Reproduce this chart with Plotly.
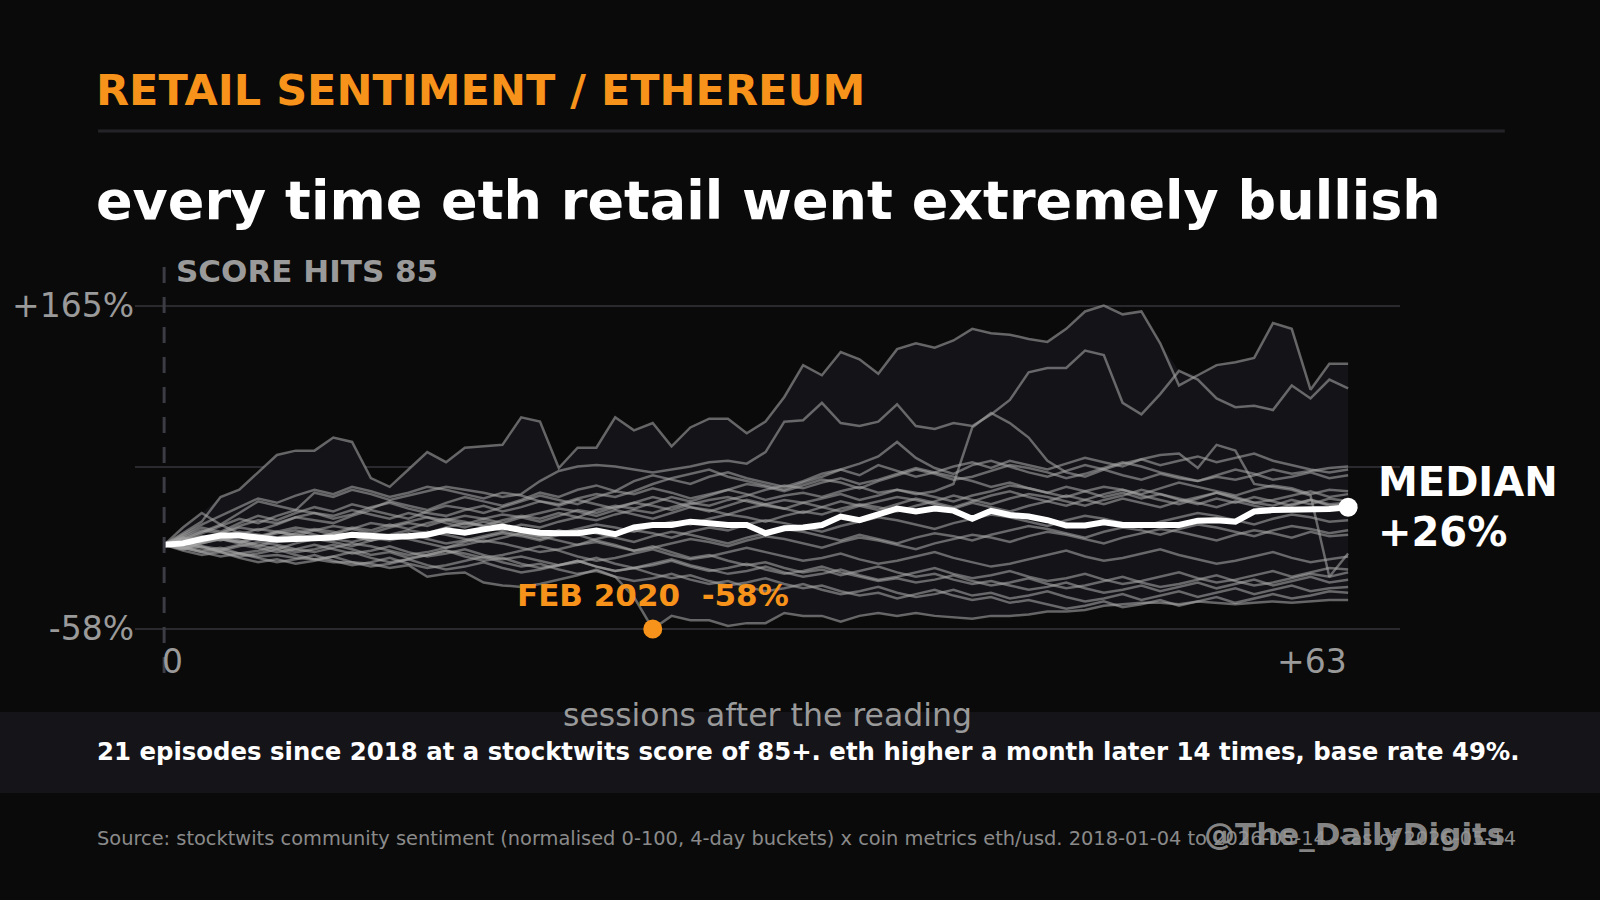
import plotly.graph_objects as go

# canvas + plot box (pixels)
W, H = 1600, 900
ML, MR, MT, MB = 133, 200, 260, 227

BG = "#0a0a0a"
ORANGE = "#f7931a"
GREY = "#9a9a9a"

# sessions after the reading
sessions = list(range(64))

# cumulative eth return (%) per episode
ep_top = [0, 8, 16, 33, 38, 50, 62, 65, 65, 74, 71, 46, 40, 52, 64, 57,
          67, 68, 69, 88, 85, 53, 67, 67, 88, 79, 84, 68, 81, 87, 87, 77,
          85, 102, 124, 117, 133, 128, 118, 135, 139, 136, 141, 149, 146, 145, 142, 140,
          149, 161, 165, 159, 161, 139, 110, 117, 124, 126, 129, 153, 149, 107, 125, 125]
ep_second = [0, 4, 9, 14, 22, 30, 27, 24, 36, 33, 38, 35, 31, 34, 37, 40,
             38, 36, 33, 35, 44, 51, 54, 55, 54, 52, 50, 52, 54, 57, 58, 56,
             64, 85, 86, 98, 84, 82, 85, 97, 82, 80, 84, 82, 90, 100, 119, 122,
             122, 134, 131, 98, 90, 104, 120, 114, 101, 95, 96, 93, 110, 101, 114, 108]
ep_spike = [0, -2, 1, 4, 2, 6, 9, 7, 5, 8, 12, 10, 14, 11, 15, 18,
            16, 13, 17, 20, 18, 22, 19, 24, 27, 25, 29, 33, 30, 34, 38, 35,
            31, 34, 36, 33, 37, 40, 36, 38, 35, 37, 42, 81, 91, 84, 74, 58,
            50, 47, 52, 48, 45, 49, 46, 44, 47, 45, 48, 52, 49, 51, 53, 54]
ep_feb2020 = [0, -2, -5, -4, -6, -8, -7, -9, -10, -12, -12, -13, -16, -14, -22, -20,
              -19, -26, -28, -29, -27, -24, -21, -17, -22, -36, -58, -49, -52, -52, -56, -54,
              -54, -47, -49, -49, -53, -49, -47, -49, -47, -49, -50, -51, -49, -49, -48, -46,
              -46, -45, -42, -41, -40, -40, -41, -39, -40, -41, -40, -39, -40, -39, -38, -38]
ep_drop = [0, 6, 12, 9, 15, 20, 17, 22, 26, 23, 28, 25, 30, 27, 24, 29,
           33, 30, 27, 31, 36, 33, 38, 41, 37, 44, 48, 45, 42, 47, 50, 46,
           43, 40, 44, 49, 52, 48, 55, 51, 47, 50, 54, 57, 53, 58, 55, 52,
           56, 60, 57, 54, 59, 62, 63, 53, 69, 65, 42, 40, 38, 34, -22, -6]
ep_peak = [0, 3, 8, 13, 18, 15, 20, 24, 22, 18, 21, 26, 29, 25, 22, 20,
           24, 27, 23, 26, 30, 28, 32, 35, 33, 37, 42, 46, 49, 52, 47, 44,
           41, 38, 43, 47, 52, 56, 61, 71, 60, 53, 49, 55, 58, 54, 50, 47,
           51, 55, 52, 56, 59, 55, 58, 61, 57, 60, 63, 58, 55, 52, 50, 52]
ep_a = [0, 5, 3, 8, 12, 10, 14, 19, 17, 15, 20, 24, 21, 18, 23, 27,
        25, 22, 26, 30, 34, 31, 28, 33, 37, 35, 39, 36, 32, 35, 38, 42,
        40, 37, 41, 45, 43, 39, 44, 48, 52, 49, 45, 47, 51, 55, 53, 50,
        46, 49, 53, 57, 54, 50, 47, 44, 48, 52, 49, 45, 47, 50, 46, 48]
ep_b = [0, 12, 22, 14, 8, 5, 9, 12, 10, 7, 11, 15, 13, 16, 19, 17,
        14, 18, 21, 19, 16, 20, 24, 22, 26, 29, 27, 24, 28, 31, 33, 30,
        27, 25, 29, 32, 35, 31, 34, 38, 36, 33, 30, 34, 37, 41, 39, 36,
        33, 37, 40, 38, 35, 39, 43, 40, 37, 34, 38, 41, 39, 35, 38, 37]
ep_c = [0, 7, 14, 20, 26, 32, 29, 34, 38, 35, 40, 37, 33, 36, 40, 38,
        35, 32, 36, 34, 30, 27, 31, 28, 25, 29, 33, 30, 26, 23, 27, 31,
        28, 25, 22, 26, 30, 27, 24, 28, 32, 29, 26, 30, 34, 37, 33, 30,
        27, 31, 35, 38, 34, 31, 28, 32, 36, 33, 29, 31, 34, 37, 33, 35]
ep_d = [0, 2, 5, 3, 7, 11, 9, 6, 10, 13, 11, 8, 12, 15, 13, 17,
        20, 18, 15, 19, 22, 25, 23, 20, 24, 21, 18, 22, 26, 24, 21, 25,
        28, 31, 29, 26, 23, 27, 30, 33, 31, 28, 25, 29, 26, 23, 27, 30,
        34, 31, 28, 32, 29, 26, 30, 33, 36, 32, 29, 27, 31, 28, 32, 30]
ep_e = [0, -3, 1, 4, 2, -1, 3, 6, 4, 8, 6, 3, 7, 10, 8, 12,
        15, 13, 10, 14, 12, 16, 19, 17, 21, 24, 22, 26, 29, 27, 31, 34,
        38, 41, 39, 43, 46, 42, 45, 49, 53, 50, 47, 44, 40, 43, 39, 36,
        40, 37, 33, 36, 32, 35, 31, 28, 32, 29, 33, 30, 27, 31, 28, 29]
ep_f = [0, 4, 2, 6, 9, 7, 5, 8, 11, 9, 6, 3, 5, 8, 4, 1,
        3, 6, 9, 7, 4, 8, 11, 14, 12, 9, 13, 16, 14, 18, 21, 19,
        16, 20, 23, 21, 25, 28, 26, 23, 27, 30, 34, 31, 28, 32, 35, 33,
        30, 27, 31, 34, 38, 35, 32, 29, 26, 30, 27, 24, 28, 31, 27, 28]
ep_g = [0, 3, 6, 4, 1, 5, 8, 10, 7, 4, 2, 5, 3, 6, 9, 7,
        4, 2, 5, 8, 6, 3, 0, 4, 7, 10, 8, 5, 9, 12, 10, 14,
        17, 15, 12, 9, 13, 16, 19, 17, 14, 11, 15, 18, 21, 19, 16, 13,
        17, 20, 18, 15, 12, 16, 19, 22, 20, 17, 14, 18, 21, 19, 16, 17]
ep_h = [0, -2, 2, 5, 3, 0, -3, 1, 4, 2, -1, 3, 6, 4, 1, -2,
        2, 5, 8, 6, 3, 7, 10, 8, 5, 2, 6, 9, 7, 4, 1, 5,
        8, 11, 9, 6, 3, 7, 4, 1, 5, 8, 6, 3, 7, 10, 13, 11,
        8, 5, 9, 12, 10, 7, 11, 14, 12, 9, 6, 10, 13, 11, 8, 10]
ep_i = [0, 1, -2, -4, -1, 2, 0, -3, -5, -2, 1, -1, -4, -7, -5, -2,
        0, 3, 1, -2, -5, -3, 0, 2, -1, -4, -2, 1, 4, 2, -1, 3,
        6, 4, 1, -2, 2, 5, 3, 0, -3, 1, 4, 7, 5, 2, 6, 9,
        7, 4, 1, 5, 8, 11, 9, 6, 3, 7, 10, 8, 5, 9, 6, 7]
ep_j = [0, -3, -1, -5, -8, -6, -3, -7, -10, -8, -5, -9, -12, -10, -7, -4,
        -6, -9, -7, -4, -1, -4, -8, -11, -9, -6, -3, -7, -10, -8, -5, -2,
        -5, -8, -11, -9, -6, -10, -13, -11, -8, -5, -9, -12, -15, -13, -10, -7,
        -4, -8, -11, -9, -6, -3, -7, -10, -13, -11, -8, -5, -9, -12, -10, -8]
ep_k = [0, -4, -7, -5, -9, -12, -10, -13, -11, -8, -12, -15, -13, -10, -14, -17,
        -15, -12, -16, -19, -17, -14, -11, -15, -18, -16, -13, -10, -14, -17, -20, -18,
        -15, -19, -22, -20, -17, -21, -24, -22, -19, -16, -20, -23, -21, -18, -22, -25,
        -23, -20, -24, -27, -25, -22, -19, -23, -26, -24, -21, -18, -22, -19, -16, -17]
ep_l = [0, 2, -1, -3, 0, -2, -5, -3, 0, -3, -6, -4, -1, -5, -8, -6,
        -3, -7, -10, -8, -11, -14, -12, -9, -13, -16, -14, -11, -15, -18, -16, -13,
        -17, -20, -18, -15, -19, -22, -25, -23, -26, -24, -21, -25, -28, -26, -23, -27,
        -30, -28, -25, -22, -26, -29, -27, -24, -21, -25, -28, -26, -23, -20, -22, -19]
ep_m = [0, 5, 10, 8, 13, 17, 15, 19, 22, 20, 24, 21, 18, 22, 19, 15,
        12, 16, 13, 9, 6, 10, 7, 3, 0, -4, -1, -5, -9, -7, -11, -14,
        -12, -16, -19, -17, -21, -18, -15, -19, -22, -20, -24, -27, -25, -28, -31, -29,
        -26, -30, -33, -31, -28, -32, -29, -26, -30, -27, -24, -28, -25, -22, -26, -24]
ep_n = [0, -2, -5, -8, -6, -9, -12, -10, -7, -11, -14, -12, -9, -13, -16, -14,
        -11, -8, -12, -15, -13, -17, -20, -18, -22, -25, -23, -20, -24, -27, -25, -29,
        -32, -30, -27, -31, -34, -32, -29, -33, -36, -34, -31, -35, -33, -37, -35, -32,
        -36, -39, -37, -34, -38, -35, -32, -36, -33, -30, -34, -31, -28, -32, -30, -29]
ep_o = [0, -1, -4, -2, -6, -4, -1, -5, -3, 0, -3, -7, -5, -9, -7, -4,
        -8, -11, -9, -13, -16, -14, -11, -15, -18, -16, -20, -23, -21, -25, -28, -26,
        -23, -27, -30, -28, -32, -35, -33, -37, -34, -31, -35, -38, -36, -40, -38, -41,
        -44, -42, -39, -43, -41, -38, -42, -39, -36, -40, -37, -34, -37, -35, -32, -33]

episodes = [ep_top, ep_second, ep_spike, ep_feb2020, ep_drop, ep_peak, ep_a, ep_b,
            ep_c, ep_d, ep_e, ep_f, ep_g, ep_h, ep_i, ep_j, ep_k, ep_l, ep_m, ep_n, ep_o]

median = [0, 1, 4, 6.5, 6.5, 5, 3.5, 4, 4.5, 5, 7, 6, 5.5, 6, 7, 10,
          8.4, 10.7, 12.6, 10.3, 8.4, 8, 8, 9.8, 7.3, 12.1, 13.7, 13.7, 16, 14.9, 13.7, 13.7,
          8, 11.4, 12, 13.7, 19.5, 17, 20.6, 25, 23, 25, 23.6, 18, 23.5, 20.6, 19.5, 17,
          13.3, 13.3, 15.5, 13.7, 13.7, 13.7, 13.7, 16.7, 17, 16, 23, 24, 24, 24, 24.8, 26]

y_ticks = [-58, 53.5, 165]
y_ticktext = ["-58%", "", "+165%"]

upper = [max(col) for col in zip(*episodes)]
lower = [min(col) for col in zip(*episodes)]
feb_low = min(ep_feb2020)
feb_low_at = ep_feb2020.index(feb_low)

pw, ph = W - ML - MR, H - MT - MB


def paper(x, y):
    return (x - ML) / pw, (H - MB - y) / ph


fig = go.Figure()

# envelope of all episodes
fig.add_trace(go.Scatter(x=sessions, y=upper, mode="lines", line=dict(width=0),
                         hoverinfo="skip", showlegend=False))
fig.add_trace(go.Scatter(x=sessions, y=lower, mode="lines", line=dict(width=0),
                         fill="tonexty", fillcolor="#131318", hoverinfo="skip", showlegend=False))

for ep in episodes:
    fig.add_trace(go.Scatter(x=sessions, y=ep, mode="lines",
                             line=dict(color="rgba(165,165,165,0.58)", width=2.5),
                             hoverinfo="skip", showlegend=False))

fig.add_trace(go.Scatter(x=sessions, y=median, mode="lines",
                         line=dict(color="white", width=6), showlegend=False))
fig.add_trace(go.Scatter(x=[sessions[-1]], y=[median[-1]], mode="markers",
                         marker=dict(color="white", size=19), showlegend=False))
fig.add_trace(go.Scatter(x=[sessions[feb_low_at]], y=[feb_low], mode="markers",
                         marker=dict(color=ORANGE, size=19), showlegend=False))

fig.add_shape(type="line", xref="x", yref="paper", x0=0, x1=0, y0=0, y1=1,
              line=dict(color="#3c3c44", width=3, dash="16px,14px"))

ann = []


def txt(x, y, text, size, color, anchor="left", bold=False):
    px_, py_ = paper(x, y)
    ann.append(dict(xref="paper", yref="paper", x=px_, y=py_, xanchor=anchor, yanchor="middle",
                    text=f"<b>{text}</b>" if bold else text, showarrow=False,
                    font=dict(size=size, color=color, family="DejaVu Sans")))


txt(92, 90, "RETAIL SENTIMENT / ETHEREUM", 43, ORANGE, bold=True)
txt(92, 200, "every time eth retail went extremely bullish", 54, "white", bold=True)
txt(172, 271, "SCORE HITS 85", 31, GREY, bold=True)
txt(158, 661, "0", 33, GREY)
txt(1349, 661, "+63", 33, GREY, anchor="right")
txt(767, 715, "sessions after the reading", 31.5, GREY, anchor="center")
txt(1376, 482, "MEDIAN", 40, "white", bold=True)
txt(1376, 532, f"+{median[-1]:g}%", 40, "white", bold=True)
txt(93, 751, "21 episodes since 2018 at a stocktwits score of 85+. eth higher a month later 14 times, base rate 49%.",
    24.4, "white", bold=True)
txt(93, 838, "Source: stocktwits community sentiment (normalised 0-100, 4-day buckets) x coin metrics eth/usd. "
    "2018-01-04 to 2026-05-14. \u00b7 as of 2026-05-14", 19.4, "#8a8a8a")
txt(1354, 834, "@The_DailyDigits", 31, "rgba(150,150,150,0.9)", anchor="center", bold=True)

ann.append(dict(x=sessions[feb_low_at], y=feb_low, xref="x", yref="y", yshift=34,
                text=f"<b>FEB 2020\u00a0\u00a0{feb_low}%</b>", showarrow=False, xanchor="center",
                yanchor="middle", font=dict(size=31, color=ORANGE, family="DejaVu Sans")))

# separator under the title, footer band
x0, y0 = paper(96, 131)
x1, _ = paper(1505, 131)
fig.add_shape(type="line", xref="paper", yref="paper", x0=x0, x1=x1, y0=y0, y1=y0,
              line=dict(color="#242428", width=3), layer="below")
_, by0 = paper(0, 712)
_, by1 = paper(0, 793)
bx0, _ = paper(-5, 0)
bx1, _ = paper(W + 5, 0)
fig.add_shape(type="rect", xref="paper", yref="paper", x0=bx0, x1=bx1, y0=by1, y1=by0,
              fillcolor="#141419", line=dict(width=0), layer="below")

fig.update_layout(
    width=W, height=H,
    margin=dict(l=ML, r=MR, t=MT, b=MB),
    paper_bgcolor=BG, plot_bgcolor=BG,
    font=dict(family="DejaVu Sans", color=GREY),
    annotations=ann,
    showlegend=False,
)
fig.update_xaxes(range=[-1.55, 65.76], showgrid=False, zeroline=False, showticklabels=False,
                 showline=False)
fig.update_yaxes(range=[-88.4, 196.5], tickvals=y_ticks, ticktext=y_ticktext, showgrid=True,
                 gridcolor="#2a2a2e", gridwidth=2, zeroline=False, showline=False, ticks="",
                 tickfont=dict(size=33, color=GREY))

fig.write_html("out.html", config={"displayModeBar": False},
               post_script="document.body.style.margin='0';document.body.style.background='#0a0a0a';")
